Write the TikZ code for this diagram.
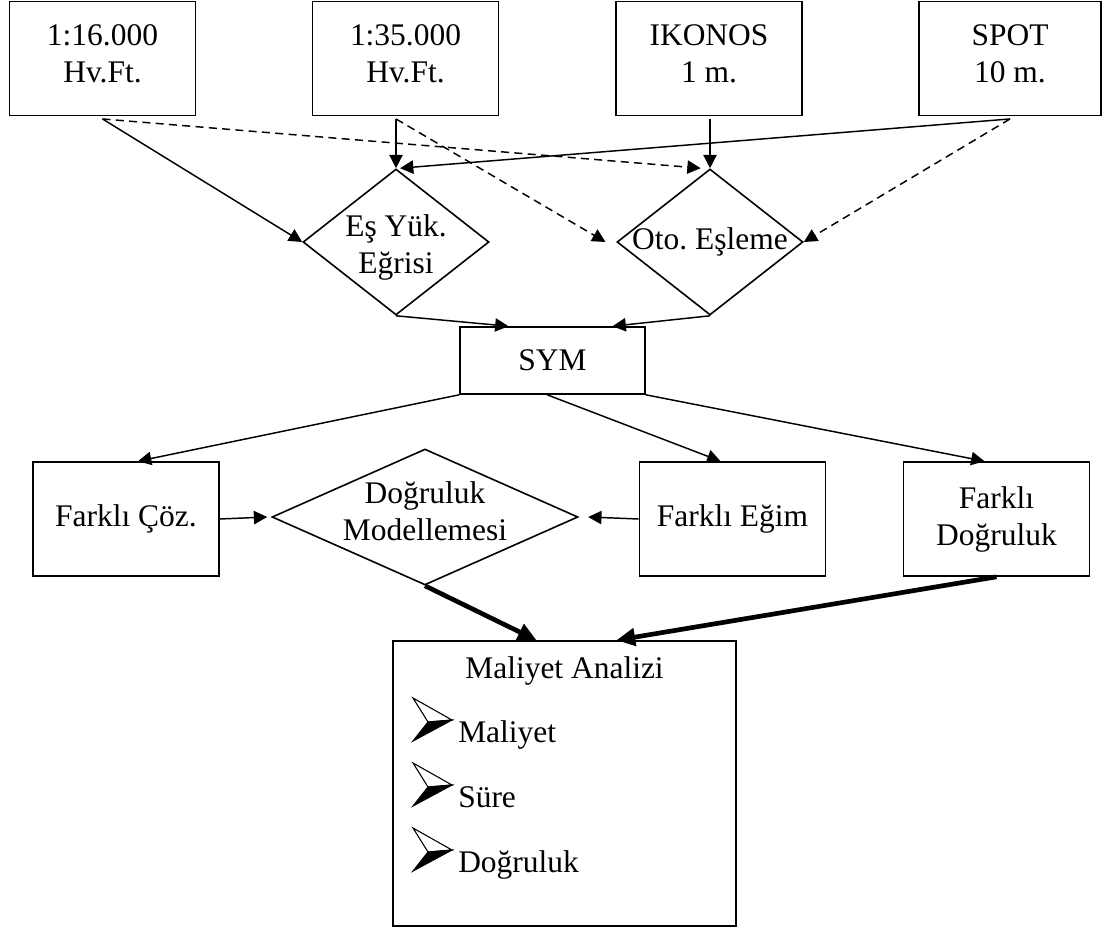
\documentclass[tikz,border=0pt]{standalone}
\usepackage{fontspec}
\setmainfont{Liberation Serif}
\usepackage{tikz}
\usetikzlibrary{positioning}
\usetikzlibrary{shapes.geometric}
\usetikzlibrary{arrows.meta}

\tikzset{
  kutu/.style={draw=black, line width=1.2pt, minimum width=139.5pt, minimum height=85.5pt, align=center, inner sep=0pt},
  kaynak/.style={kutu, text depth=7.5pt},
  karar/.style={draw=black, line width=1.2pt, diamond, inner sep=0pt},
  ok/.style={line width=1.1pt, -{Triangle[length=10pt,width=10pt]}},
  kesik/.style={ok, dash pattern=on 6pt off 4pt},
  kalin/.style={line width=3.5pt, -{Triangle[length=14pt,width=13pt]}}
}

% madde imi (ok ucu)
\newcommand{\okimi}[1]{%
  \filldraw[fill=white, line width=0.8pt, line join=miter] #1 -- ++(39,22) -- ++(-24,2) -- cycle;
  \filldraw[line width=0.8pt, line join=miter] #1 ++(15,24) -- ++(24,-2) -- ++(-39,21) -- cycle;
}

\begin{document}
\frenchspacing
\begin{tikzpicture}[x=0.75pt, y=-0.75pt, font=\fontsize{23.6}{27.75}\selectfont]
    \useasboundingbox (0,0) rectangle (1109,930);
    % veri kaynaklari
    \node[kaynak] (hf16) at (102.5,58.5) {1:16.000\\Hv.Ft.};
    \node[kaynak] (hf35) at (405.5,58.5) {1:35.000\\Hv.Ft.};
    \node[kaynak] (ikonos) at (709,58.5) {IKONOS\\1 m.};
    \node[kaynak, minimum width=136.5pt] (spot) at (1010,58.5) {SPOT\\10 m.};
    % yontemler
    \node[karar, minimum width=139.5pt, minimum height=109.5pt,
          label={[align=center, yshift=-4pt]center:{E\c{s} Y\"uk.\\E\u{g}risi}}] (eyk) at (396,242) {};
    \node[karar, minimum width=139.5pt, minimum height=109.5pt,
          label={center:{Oto. E\c{s}leme}}] (oto) at (710,242) {};
    \node[kutu, minimum width=138.75pt, minimum height=50.25pt] (sym) at (552.5,360.5) {SYM};
    % analizler
    \node[kutu] (coz) at (126,519) {Farkl\i\ \c{C}\"oz.};
    \node[karar, minimum width=229.5pt, minimum height=102pt,
          label={[align=center, yshift=4pt]center:{Do\u{g}ruluk\\Modellemesi}}] (dm) at (425,517) {};
    \node[kutu] (egim) at (732.5,519) {Farkl\i\ E\u{g}im};
    \node[kutu] (fdog) at (996.5,519) {Farkl\i\\Do\u{g}ruluk};
    \node[kutu, minimum width=257.25pt, minimum height=213.75pt] (maliyet) at (564.5,783.5) {};
    \node[anchor=base] (baslik) at (564.5,678) {Maliyet Analizi};
    \node[anchor=base west, inner sep=0pt] (m1) at (458,742) {Maliyet};
    \node[anchor=base west, inner sep=0pt] (m2) at (458,807) {S\"ure};
    \node[anchor=base west, inner sep=0pt] (m3) at (458,872) {Do\u{g}ruluk};
    \okimi{(413,698)}
    \okimi{(413,763)}
    \okimi{(413,828)}
    % baglantilar
    \draw[ok] ([yshift=-2pt]hf16.south) -- (eyk.west);
    \draw[kesik] ([yshift=-2pt]hf16.south) -- ([xshift=-7pt]oto.north);
    \draw[ok] ([yshift=-2pt]hf35.south -| eyk.north) -- (eyk.north);
    \draw[kesik] ([yshift=-2pt]hf35.south -| eyk.north) -- ([xshift=-8pt]oto.west);
    \draw[ok] ([yshift=-2pt]ikonos.south -| oto.north) -- (oto.north);
    \draw[ok] ([yshift=-2pt]spot.south) -- ([xshift=3pt]eyk.north);
    \draw[kesik] ([yshift=-2pt]spot.south) -- (oto.east);
    \draw[ok] (eyk.south) -- ([xshift=-33pt]sym.north);
    \draw[ok] (oto.south) -- ([xshift=45pt]sym.north);
    \draw[ok] (sym.south west) -- ([xshift=9pt]coz.north);
    \draw[ok] ([xshift=-4pt]sym.south) -- ([xshift=-9pt]egim.north);
    \draw[ok] (sym.south east) -- ([xshift=-9pt]fdog.north);
    \draw[ok] (coz.east) -- ([xshift=-3pt]dm.west);
    \draw[ok] (egim.west) -- ([xshift=7pt]dm.east);
    \draw[kalin] (dm.south) -- ([xshift=-21pt]maliyet.north);
    \draw[kalin] (fdog.south) -- ([xshift=39pt]maliyet.north);
\end{tikzpicture}
\end{document}
